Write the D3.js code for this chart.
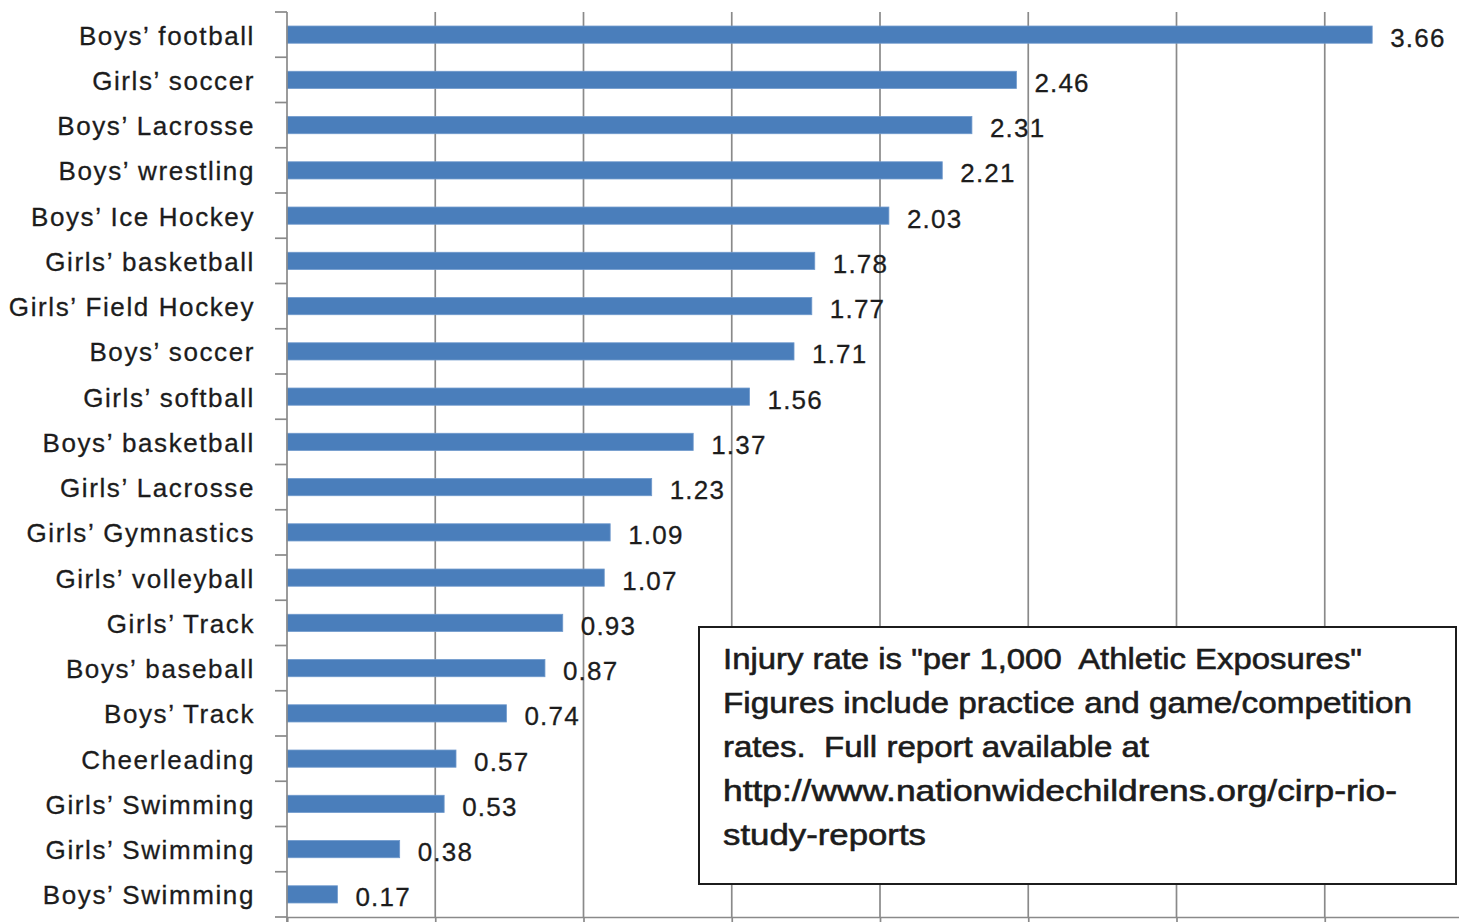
<!DOCTYPE html>
<html>
<head>
<meta charset="utf-8">
<script src="https://cdn.jsdelivr.net/npm/d3@7"></script>
<style>
  html, body { margin: 0; padding: 0; background: #fff; }
  svg { display: block; }
</style>
</head>
<body>
<svg id="chart" width="1459" height="922"></svg>
<script>
// Injury rates per 1,000 athletic exposures, by sport
const sports = [
  "Boys’ football", "Girls’ soccer", "Boys’ Lacrosse", "Boys’ wrestling",
  "Boys’ Ice Hockey", "Girls’ basketball", "Girls’ Field Hockey", "Boys’ soccer",
  "Girls’ softball", "Boys’ basketball", "Girls’ Lacrosse", "Girls’ Gymnastics",
  "Girls’ volleyball", "Girls’ Track", "Boys’ baseball", "Boys’ Track",
  "Cheerleading", "Girls’ Swimming", "Girls’ Swimming", "Boys’ Swimming"
];
const rates = [3.66, 2.46, 2.31, 2.21, 2.03, 1.78, 1.77, 1.71, 1.56, 1.37,
               1.23, 1.09, 1.07, 0.93, 0.87, 0.74, 0.57, 0.53, 0.38, 0.17];
const gridTicks = [0, 0.5, 1, 1.5, 2, 2.5, 3, 3.5, 4];
const noteLines = [
  "Injury rate is \"per 1,000  Athletic Exposures\"",
  "Figures include practice and game/competition",
  "rates.  Full report available at",
  "http://www.nationwidechildrens.org/cirp-rio-",
  "study-reports"
];
const noteWidths = [639, 689, 426, 674, 203];

const svg = d3.select("#chart");
const plotLeft = 287, plotTop = 12, plotBottom = 917;

const keys = sports.map((s, i) => i);
const x = d3.scaleLinear().domain([0, 4]).range([plotLeft, 1473]);
const y = d3.scaleBand().domain(keys).range([plotTop, plotBottom])
  .paddingInner(0.62).paddingOuter(0.31);

const labelFont = "'Liberation Sans', Arial, sans-serif";
const axisGrey = "#8a8a8a";
const textColor = "#1c1c1c";

// vertical gridlines
svg.append("g").selectAll("line")
  .data(gridTicks.filter(t => t > 0))
  .join("line")
  .attr("x1", d => x(d)).attr("x2", d => x(d))
  .attr("y1", plotTop).attr("y2", plotBottom)
  .attr("stroke", axisGrey).attr("stroke-width", 1.7);

// bottom axis with downward ticks
const xAxis = d3.axisBottom(x).tickValues(gridTicks).tickSize(8).tickFormat("");
const gx = svg.append("g").attr("transform", `translate(0,${plotBottom})`).call(xAxis);
gx.select(".domain").attr("stroke", axisGrey).attr("stroke-width", 1.7);
gx.selectAll(".tick line").attr("stroke", axisGrey).attr("stroke-width", 1.7);

// bars
svg.append("g").selectAll("rect")
  .data(rates)
  .join("rect")
  .attr("x", x(0))
  .attr("y", (d, i) => y(i))
  .attr("width", d => x(d) - x(0))
  .attr("height", y.bandwidth())
  .attr("fill", "#4a7ebb")
  .attr("stroke", "#6f99cc").attr("stroke-width", 0.8);

// y axis line and band-boundary ticks
const boundaries = d3.range(keys.length + 1).map(i => plotTop + i * y.step());
svg.append("line")
  .attr("x1", plotLeft).attr("x2", plotLeft)
  .attr("y1", plotTop).attr("y2", plotBottom + 8)
  .attr("stroke", axisGrey).attr("stroke-width", 1.7);
svg.append("g").selectAll("line")
  .data(boundaries)
  .join("line")
  .attr("x1", plotLeft - 12).attr("x2", plotLeft)
  .attr("y1", d => d).attr("y2", d => d)
  .attr("stroke", axisGrey).attr("stroke-width", 1.7);

// category labels
svg.append("g").selectAll("text")
  .data(sports)
  .join("text")
  .attr("x", 255)
  .attr("y", (d, i) => y(i) + y.bandwidth() / 2 + 1)
  .attr("text-anchor", "end")
  .attr("dominant-baseline", "central")
  .attr("font-family", labelFont)
  .attr("font-size", 26)
  .attr("letter-spacing", 1.6)
  .attr("fill", textColor)
  .attr("stroke", textColor).attr("stroke-width", 0.3)
  .text(d => d);

// value labels
svg.append("g").selectAll("text")
  .data(rates)
  .join("text")
  .attr("x", d => x(d) + 18)
  .attr("y", (d, i) => y(i) + y.bandwidth() / 2 + 3)
  .attr("dominant-baseline", "central")
  .attr("font-family", labelFont)
  .attr("font-size", 26)
  .attr("letter-spacing", 1.2)
  .attr("fill", textColor)
  .attr("stroke", textColor).attr("stroke-width", 0.3)
  .text(d => d.toFixed(2));

// note box
const note = svg.append("g");
note.append("rect")
  .attr("x", 699).attr("y", 627)
  .attr("width", 757).attr("height", 257)
  .attr("fill", "#fff")
  .attr("stroke", "#1c1c1c").attr("stroke-width", 2);
note.selectAll("text")
  .data(noteLines)
  .join("text")
  .attr("x", 723)
  .attr("y", (d, i) => 669 + i * 44)
  .attr("font-family", labelFont)
  .attr("font-size", 30)
  .attr("fill", textColor)
  .attr("stroke", textColor).attr("stroke-width", 0.6)
  .attr("textLength", (d, i) => noteWidths[i])
  .attr("lengthAdjust", "spacingAndGlyphs")
  .style("white-space", "pre")
  .text(d => d);
</script>
</body>
</html>
